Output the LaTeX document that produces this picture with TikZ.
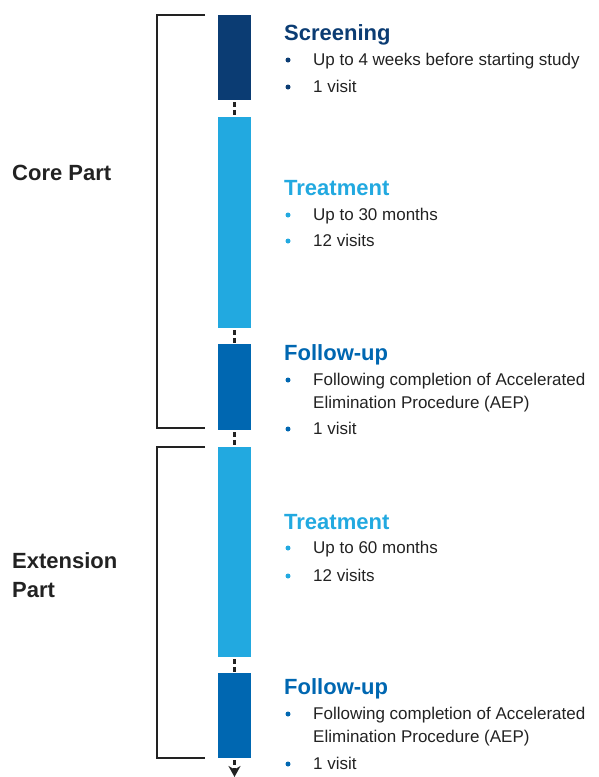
\documentclass[tikz,border=0pt]{standalone}
\usepackage{fontspec}
\setmainfont{Liberation Sans}
\usetikzlibrary{arrows.meta}
\definecolor{navy}{HTML}{0B3C73}
\definecolor{skyblue}{HTML}{22A9E0}
\definecolor{midblue}{HTML}{0067B1}
\definecolor{ink}{HTML}{222222}

\begin{document}
\begin{tikzpicture}[x=1pt, y=-1pt,
    bar/.style={minimum width=33pt, inner sep=0pt, anchor=north},
    title/.style={anchor=base west, inner sep=0pt, font=\fontsize{22}{26}\selectfont\bfseries},
    item/.style={anchor=base west, inner sep=0pt, text=ink, font=\fontsize{17}{22}\selectfont},
    dot/.style={circle, inner sep=0pt, minimum size=5pt},
    part/.style={anchor=base west, inner sep=0pt, text=ink, font=\fontsize{22}{29}\selectfont\bfseries},
    link/.style={ink, line width=2.6pt, dash pattern=on 5pt off 2.5pt, dash phase=5.5pt},
    brace/.style={ink, line width=2pt}]
    \useasboundingbox (0,0) rectangle (599,777);

    % timeline bars
    \node[bar, fill=navy, minimum height=85pt] (scr) at (234.5,15) {};
    \node[bar, fill=skyblue, minimum height=211pt] (trt1) at (234.5,117) {};
    \node[bar, fill=midblue, minimum height=86pt] (fu1) at (234.5,344) {};
    \node[bar, fill=skyblue, minimum height=210pt] (trt2) at (234.5,447) {};
    \node[bar, fill=midblue, minimum height=85pt] (fu2) at (234.5,673) {};
    \coordinate (end) at (234.5,777);

    \draw[link] (scr) -- (trt1);
    \draw[link] (trt1) -- (fu1);
    \draw[link] (fu1) -- (trt2);
    \draw[link] (trt2) -- (fu2);
    \draw[link, -{Stealth[length=11pt, width=12pt, inset=3.5pt]}] (fu2) -- (end);

    % brackets
    \draw[brace] (205,15) -- (157,15) -- (157,428) -- (205,428);
    \draw[brace] (205,447) -- (157,447) -- (157,758) -- (205,758);
    \node[part] (core) at (12,180) {Core Part};
    \node[part] (ext) at (12,568) {Extension};
    \node[part] (extb) at (12,597) {Part};

    % screening
    \node[title, text=navy] (scrt) at (284,40) {Screening};
    \node[dot, fill=navy] (scrd1) at (288,60) {};
    \node[item] (scri1) at (313,65) {Up to 4 weeks before starting study};
    \node[dot, fill=navy] (scrd2) at (288,87) {};
    \node[item] (scri2) at (313,92) {1 visit};

    % treatment (core)
    \node[title, text=skyblue] (trt1t) at (284,195) {Treatment};
    \node[dot, fill=skyblue] (trt1d1) at (288,215) {};
    \node[item] (trt1i1) at (313,220) {Up to 30 months};
    \node[dot, fill=skyblue] (trt1d2) at (288,241) {};
    \node[item] (trt1i2) at (313,246) {12 visits};

    % follow-up (core)
    \node[title, text=midblue] (fu1t) at (284,360) {Follow-up};
    \node[dot, fill=midblue] (fu1d1) at (288,380) {};
    \node[item] (fu1i1) at (313,385) {Following completion of Accelerated};
    \node[item] (fu1i1b) at (313,408) {Elimination Procedure (AEP)};
    \node[dot, fill=midblue] (fu1d2) at (288,429) {};
    \node[item] (fu1i2) at (313,434) {1 visit};

    % treatment (extension)
    \node[title, text=skyblue] (trt2t) at (284,529) {Treatment};
    \node[dot, fill=skyblue] (trt2d1) at (288,548) {};
    \node[item] (trt2i1) at (313,553) {Up to 60 months};
    \node[dot, fill=skyblue] (trt2d2) at (288,576) {};
    \node[item] (trt2i2) at (313,581) {12 visits};

    % follow-up (extension)
    \node[title, text=midblue] (fu2t) at (284,694) {Follow-up};
    \node[dot, fill=midblue] (fu2d1) at (288,714) {};
    \node[item] (fu2i1) at (313,719) {Following completion of Accelerated};
    \node[item] (fu2i1b) at (313,742) {Elimination Procedure (AEP)};
    \node[dot, fill=midblue] (fu2d2) at (288,764) {};
    \node[item] (fu2i2) at (313,769) {1 visit};
\end{tikzpicture}
\end{document}
